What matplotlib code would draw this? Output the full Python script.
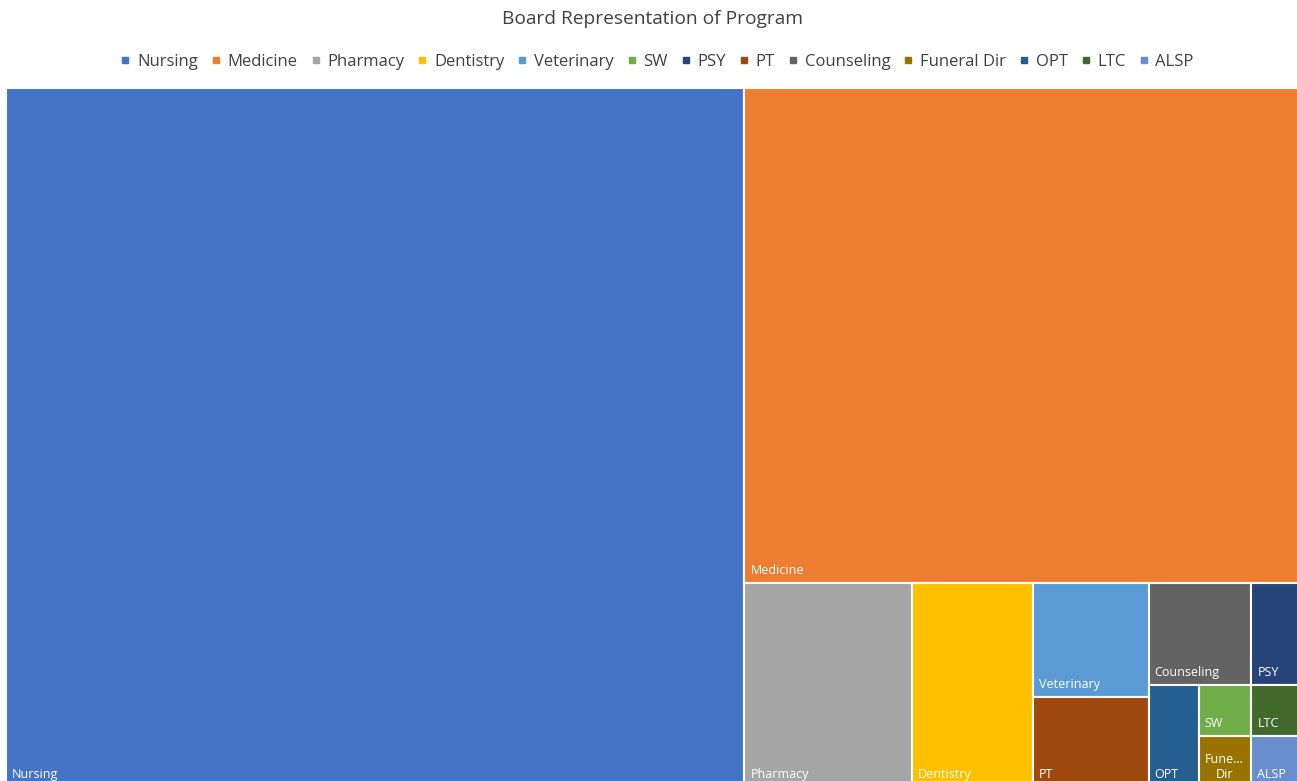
import matplotlib
matplotlib.use("Agg")
import matplotlib.pyplot as plt
from matplotlib.patches import Rectangle
from matplotlib.lines import Line2D

plt.rcParams['font.family'] = ['Open Sans', 'DejaVu Sans']

# ---- data ----
categories = ["Nursing", "Medicine", "Pharmacy", "Dentistry", "Veterinary", "SW", "PSY",
              "PT", "Counseling", "Funeral Dir", "OPT", "LTC", "ALSP"]
values = [192, 103, 12.7, 9.2, 4.9, 1, 2, 3.9, 3.9, 1, 1.9, 1, 1]
colors = ["#4472C4", "#ED7D31", "#A5A5A5", "#FFC000", "#5B9BD5", "#70AD47", "#264478",
          "#9E480E", "#636363", "#997300", "#255E91", "#43682B", "#698ED0"]
cell_labels = ["Nursing", "Medicine", "Pharmacy", "Dentistry", "Veterinary", "SW", "PSY",
               "PT", "Counseling", "Fune...\nDir", "OPT", "LTC", "ALSP"]
title = "Board Representation of Program"

# ---- figure ----
FW, FH = 1297, 781
fig = plt.figure(figsize=(FW / 100, FH / 100), dpi=100)

# treemap region in pixels (extends slightly past the figure edge, as in the reference)
L, T, W, H = 6, 88, 1298, 699
ax = fig.add_axes([L / FW, 1 - (T + H) / FH, W / FW, H / FH])
ax.set_xlim(0, W)
ax.set_ylim(H, 0)
ax.axis("off")


def worst(row, length):
    s = sum(a for _, a in row)
    return max(max(length ** 2 * a / s ** 2, s ** 2 / (length ** 2 * a)) for _, a in row)


def squarify(items, x, y, w, h):
    rects = {}
    rem = list(items)
    while rem:
        length = min(w, h)
        row = [rem[0]]
        i = 1
        while i < len(rem) and worst(row + [rem[i]], length) <= worst(row, length):
            row.append(rem[i])
            i += 1
        rem = rem[i:]
        s = sum(a for _, a in row)
        if w >= h:
            cw = s / h
            cy = y
            for idx, a in row:
                ch = a / cw
                rects[idx] = (x, cy, cw, ch)
                cy += ch
            x += cw
            w -= cw
        else:
            ch = s / w
            cx = x
            for idx, a in row:
                cw = a / ch
                rects[idx] = (cx, y, cw, ch)
                cx += cw
            y += ch
            h -= ch
    return rects


total = sum(values)
order = sorted(range(len(values)), key=lambda k: -values[k])
items = [(k, values[k] / total * W * H) for k in order]
rects = squarify(items, 0, 0, W, H)

for k, (x, y, w, h) in rects.items():
    ax.add_patch(Rectangle((x, y), w, h, facecolor=colors[k], edgecolor="white",
                           linewidth=1.5, clip_on=False))
    ax.text(x + 6, y + h - 6, cell_labels[k], color="white", fontsize=9,
            ha="left", va="bottom", multialignment="center", clip_on=False)

fig.text(653 / FW, 1 - 19 / FH, title, ha="center", va="center", fontsize=13.8, color="#404040")

handles = [Line2D([], [], marker="s", linestyle="none", markersize=5,
                  markerfacecolor=c, markeredgecolor=c) for c in colors]
fig.legend(handles, categories, loc="center", bbox_to_anchor=(657 / FW, 1 - 62 / FH),
           ncol=len(categories), frameon=False, fontsize=12, handlelength=0.6,
           handletextpad=0.4, columnspacing=0.78, labelcolor="#404040")

fig.savefig("out.png", dpi=100)
